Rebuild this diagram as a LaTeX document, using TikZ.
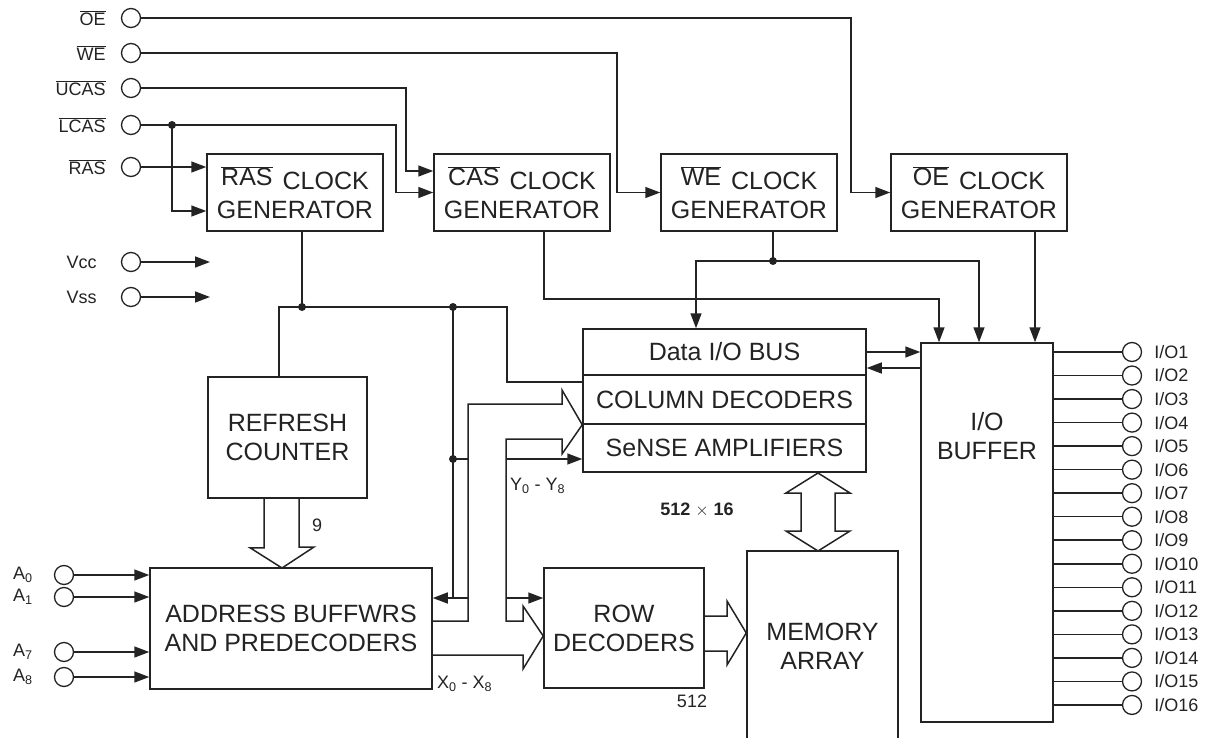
\documentclass[tikz,border=0pt]{standalone}
\usepackage{fontspec}
\setmainfont{Liberation Sans}
\usetikzlibrary{arrows.meta}
\definecolor{ink}{RGB}{35,35,35}
\newcommand{\ovl}[1]{$\overline{\mbox{#1}}$}
\newcommand{\bigfont}{\fontsize{25}{29}\selectfont}
\newcommand{\smallfont}{\fontsize{18}{21}\selectfont}

\begin{document}
\begin{tikzpicture}[x=1pt, y=-1pt,
    blk/.style={draw=ink, line width=1.5pt, inner sep=0pt, align=center, font=\bigfont, text=ink},
    term/.style={circle, draw=ink, line width=1.3pt, minimum size=19pt, inner sep=0pt},
    lbl/.style={font=\smallfont, text=ink, inner sep=0pt},
    txt/.style={font=\bigfont, text=ink, align=center, inner sep=0pt},
    wire/.style={draw=ink, line width=1.5pt},
    arr/.style={wire, -{Triangle[length=15pt, width=11pt]}},
    bus/.style={draw=ink, line width=1.5pt, line join=miter}]
    \useasboundingbox (0,0) rectangle (1217,738);
    \clip (0,0) rectangle (1217,738);

    % Control pins
    \node[term, label={[lbl, label distance=15pt]left:\ovl{OE}}]   (noe)   at (131,18)  {};
    \node[term, label={[lbl, label distance=15pt]left:\ovl{WE}}]   (nwe)   at (131,53)  {};
    \node[term, label={[lbl, label distance=15pt]left:\ovl{UCAS}}] (nucas) at (131,88)  {};
    \node[term, label={[lbl, label distance=15pt]left:\ovl{LCAS}}] (nlcas) at (131,125) {};
    \node[term, label={[lbl, label distance=15pt]left:\ovl{RAS}}]  (nras)  at (131,167) {};
    \node[term, label={[lbl, label distance=24pt]left:Vcc}] (nvcc) at (131,262) {};
    \node[term, label={[lbl, label distance=24pt]left:Vss}] (nvss) at (131,297) {};
    \coordinate (vccend) at (210,262);
    \coordinate (vssend) at (210,297);

    % Clock generators
    \node[blk, minimum width=176pt, minimum height=77pt] (rasgen) at (295,192.5) {\raisebox{4pt}{\ovl{RAS}}\hspace{10pt}CLOCK\\GENERATOR};
    \node[blk, minimum width=176pt, minimum height=77pt] (casgen) at (522,192.5) {\raisebox{4pt}{\ovl{CAS}}\hspace{10pt}CLOCK\\GENERATOR};
    \node[blk, minimum width=176pt, minimum height=77pt] (wegen)  at (749,192.5) {\raisebox{4pt}{\ovl{WE}}\hspace{10pt}CLOCK\\GENERATOR};
    \node[blk, minimum width=176pt, minimum height=77pt] (oegen)  at (979,192.5) {\raisebox{4pt}{\ovl{OE}}\hspace{10pt}CLOCK\\GENERATOR};

    % Core blocks
    \node[blk, minimum width=159pt, minimum height=121pt] (refresh) at (287.5,437.5) {REFRESH\\COUNTER};
    \node[blk, minimum width=282pt, minimum height=121pt] (addr)    at (291,628.5)   {ADDRESS BUFFWRS\\AND PREDECODERS};
    \node[blk, minimum width=283pt, minimum height=46pt]  (dbus)    at (724.5,352)   {Data I/O BUS};
    \node[blk, minimum width=283pt, minimum height=49pt]  (coldec)  at (724.5,399.5) {COLUMN DECODERS};
    \node[blk, minimum width=283pt, minimum height=48pt]  (sense)   at (724.5,448)   {SeNSE AMPLIFIERS};
    \node[blk, minimum width=160pt, minimum height=120pt] (rowdec)  at (624,628)     {ROW\\DECODERS};
    \node[blk, minimum width=151pt, minimum height=190pt] (memarr)  at (822.5,646)   {MEMORY\\ARRAY};
    \node[blk, minimum width=132pt, minimum height=379pt] (iobuf)   at (987,532.5)   {};
    \node[txt] (iobuftext) at (987,436) {I/O\\BUFFER};

    % Address pins
    \foreach \n/\y in {0/575, 1/597, 7/652, 8/677} {
        \node[term, label={[lbl, label distance=21pt]left:A\textsubscript{\n}}] (a\n) at (64,\y) {};
        \draw[arr] (a\n.east) -- (a\n -| addr.west);
    }

    % Data pins
    \foreach \i in {1,...,16} {
        \node[term, label={[lbl, label distance=12pt]right:I/O\i}] (io\i) at (1132,{352+(\i-1)*23.53}) {};
        \draw[wire] (iobuf.east |- io\i) -- (io\i);
    }

    % Control inputs
    \draw[arr] (noe.east) -- (851,18) |- (oegen.west);
    \draw[arr] (nwe.east) -- (617,53) |- (wegen.west);
    \draw[arr] (nucas.east) -- (406,88) |- ([yshift=21.5pt]casgen.west);
    \draw[arr] (nlcas.east) -- (396,125) |- (casgen.west);
    \draw[arr] (nras.east) -- (nras.east -| rasgen.west);
    \coordinate (jl) at (172,125);
    \draw[arr] (jl) |- ([yshift=-18.5pt]rasgen.west);
    \fill[ink] (jl) circle (4pt);
    \draw[arr] (nvcc.east) -- (vccend);
    \draw[arr] (nvss.east) -- (vssend);

    % RAS clock distribution
    \coordinate (jr) at (302,307);
    \coordinate (ja) at (453,307);
    \coordinate (jb) at (453,459);
    \draw[wire] ([xshift=7pt]rasgen.south) -- (jr);
    \draw[wire] ([xshift=-8.5pt]refresh.north) |- (jr) -- (ja) -- (507,307) |- ([yshift=17.5pt]coldec.west);
    \draw[wire] (ja) -- (453,598);
    \draw[wire] (jb) -- (468,459);
    \draw[arr] (468,598) -- ([yshift=30.5pt]addr.east);
    \fill[ink] (jr) circle (4pt) (ja) circle (4pt) (jb) circle (4pt);

    % Address bus to the decoders
    \draw[bus] ([yshift=7.5pt]addr.east) -- (468,621) -- (468,404) -- (562,404) -- (562,390)
        -- (coldec.south west) -- (562,454) -- (562,439) -- (506,439) -- (506,621) -- (523,621)
        -- (523,606) -- ([yshift=-8pt]rowdec.west) -- (523,669) -- (523,655) -- ([yshift=-26.5pt]addr.east);
    \draw[arr] (506,459) -- ([yshift=-11pt]sense.west);
    \draw[arr] (506,598) -- ([yshift=30pt]rowdec.west);

    % Wide arrows
    \draw[bus] ([xshift=-23.5pt]refresh.south) -- ++(0,49) -- ++(-14,0) -- (282,568) -- (314,547) -- (299,547) -- ([xshift=11.5pt]refresh.south);
    \draw[bus] ([yshift=12pt]rowdec.east) -- (727,616) -- (727,601) -- ([yshift=13pt]memarr.west) -- (727,665) -- (727,651) -- ([yshift=-23pt]rowdec.east);
    \draw[bus] (818,473) -- (850,493) -- (835,493) -- (835,531) -- (850,531) -- (818,551) -- (786,531) -- (801,531) -- (801,493) -- (786,493) -- cycle;

    % Clock outputs
    \draw[arr] ([xshift=22pt]casgen.south) |- (939,299) -- ([xshift=-48pt]iobuf.north);
    \coordinate (jw) at (773,261);
    \draw[wire] ([xshift=24pt]wegen.south) -- (jw);
    \draw[arr] (jw) -- (696,261) -- ([xshift=-28.5pt]dbus.north);
    \draw[arr] (jw) -- (979,261) -- ([xshift=-8pt]iobuf.north);
    \fill[ink] (jw) circle (4pt);
    \draw[arr] ([xshift=56pt]oegen.south) -- ([xshift=48pt]iobuf.north);

    % Data bus
    \draw[arr] (dbus.east) -- (dbus.east -| iobuf.west);
    \draw[arr] ([yshift=-16pt]dbus.east -| iobuf.west) -- ([yshift=-16pt]dbus.east);

    % Bus labels
    \node[lbl, anchor=west] (nine) at (312,525) {9};
    \node[lbl, anchor=west] (ylbl) at (510,486) {Y\textsubscript{0} - Y\textsubscript{8}};
    \node[lbl, anchor=west] (xlbl) at (437,684) {X\textsubscript{0} - X\textsubscript{8}};
    \node[lbl] (rows) at (692,701) {512};
    \node[lbl, font=\smallfont\bfseries] (size) at (697,510) {512 $\times$ 16};
\end{tikzpicture}
\end{document}
